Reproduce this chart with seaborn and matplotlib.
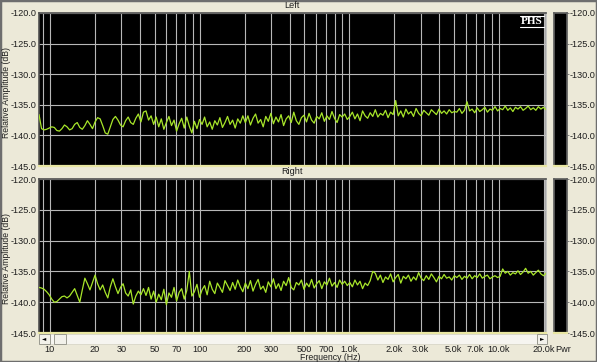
import numpy as np
import pandas as pd
import matplotlib
matplotlib.use("Agg")
import matplotlib.pyplot as plt
from matplotlib.patches import Rectangle
from matplotlib.lines import Line2D
from matplotlib.ticker import FixedLocator, FixedFormatter, NullFormatter
import seaborn as sns

# ---------------- data ----------------
left_db = [
    -136.6, -138.9, -139.1, -139.0, -138.8, -138.6, -138.7, -139.2, -139.3, -138.9, -138.3,
    -138.6, -139.1, -138.9, -138.2, -137.9, -138.7, -139.0, -138.4, -137.6, -138.2, -138.9,
    -137.8, -137.1, -137.3, -138.4, -139.6, -139.8, -138.6, -137.4, -136.9, -137.5,
    -138.3, -138.6, -137.6, -137.0, -137.9, -138.2, -137.2, -136.5, -137.8, -136.2,
    -136.0, -137.5, -136.8, -138.2, -137.0, -138.6, -137.3, -139.0, -137.9, -136.9,
    -138.4, -137.5, -139.3, -138.1, -137.2, -138.8, -137.0, -138.5, -139.6, -137.7,
    -138.9, -137.4, -138.2, -137.0, -138.6, -137.8, -139.0, -137.6, -138.3, -137.1,
    -138.7, -137.9, -136.9, -138.2, -137.5, -138.8, -137.3, -138.0, -136.8,
    -137.9, -136.8, -138.3, -137.2, -136.5, -138.0, -137.4, -138.6, -136.9, -137.7,
    -136.4, -138.1, -137.0, -137.8, -136.6, -138.4, -137.3, -136.8, -137.9, -136.2,
    -137.6, -138.2, -137.1, -136.7, -137.8, -136.4, -137.5, -138.0, -136.9, -137.3,
    -136.3, -137.7, -136.8, -137.4, -136.1, -137.2, -137.9, -136.6, -137.0, -136.5, -137.4,
    -136.9, -136.2, -137.3, -136.5, -137.6, -136.0, -136.8, -137.2, -136.3, -136.9,
    -135.8, -137.0, -136.4, -136.7, -135.9, -137.1, -136.2, -136.6, -134.3, -136.8,
    -136.0, -137.0, -135.7, -136.5, -136.1, -136.9, -135.6, -136.4, -136.8, -135.9,
    -136.3, -136.7, -135.8, -136.2, -136.6, -135.7, -136.4, -136.0, -136.5, -135.8,
    -136.3, -136.1,
    -136.2, -135.6, -136.4, -135.9, -134.5, -136.0, -135.7, -136.3, -135.5, -136.1,
    -135.8, -135.4, -136.2, -135.7, -135.9, -135.3, -136.0, -135.6, -135.8, -135.2,
    -135.9, -135.5, -136.1, -135.4, -135.7, -135.3, -135.9, -135.6, -135.2, -135.8,
    -135.5, -135.9, -135.3, -135.7, -135.4, -135.8,
]

right_db = [
    -137.6, -137.7, -137.9, -138.3, -138.8, -139.5, -140.0, -139.9, -139.5, -139.1,
    -139.0, -139.3, -139.0, -138.4, -137.8, -138.9, -140.0, -138.0, -136.1, -137.0,
    -138.0, -136.8,
    -135.6, -137.0, -138.0, -137.2, -138.4, -139.3, -137.5, -136.2, -137.5, -138.6,
    -137.6, -137.0, -138.5, -139.0, -138.0, -140.3, -139.0, -138.2, -138.8, -137.8,
    -138.9, -137.6, -139.5, -138.2, -140.0, -138.7, -139.6, -137.9, -140.4, -138.5,
    -139.2, -137.6, -139.8, -138.4, -137.8, -139.5, -138.1, -135.0, -139.0, -138.3,
    -137.1, -139.2, -138.0, -137.3, -138.8, -136.6, -137.9, -138.6, -136.9, -137.6,
    -138.4, -136.5, -137.3, -138.1, -136.8, -137.9, -136.4, -137.5, -138.3,
    -136.9, -137.8, -136.5, -138.2, -137.1, -136.3, -137.9, -137.4, -138.4, -136.7,
    -137.5, -136.2, -137.8, -137.0, -138.1, -136.6, -137.3, -136.0, -137.6, -138.0,
    -136.8, -137.2, -136.4, -137.9, -136.9, -137.5, -136.3, -137.7, -137.0, -136.5,
    -137.8, -136.7, -137.2, -136.1, -137.4, -136.8, -137.6, -136.4, -137.1, -136.6, -137.3,
    -136.8, -137.5, -136.4, -137.2, -136.6, -137.8, -136.9, -137.3, -136.5, -135.0,
    -135.3, -136.4, -135.6, -136.8, -135.9, -136.3, -135.4, -136.7, -136.0, -135.5,
    -136.9, -135.8, -136.2, -135.6, -136.6, -135.9, -136.4, -135.2, -136.1, -136.5,
    -135.7, -136.3, -135.4, -136.0, -136.7, -135.8, -136.2, -135.5, -136.1, -135.9,
    -136.4, -135.7,
    -136.0, -135.6, -136.3, -135.8, -136.1, -135.5, -136.2, -135.7, -136.0, -135.4,
    -136.1, -135.8, -135.6, -136.2, -135.9, -135.7, -136.0, -135.8, -134.6, -135.3,
    -135.0, -135.6, -135.2, -135.4, -134.9, -135.5, -135.1, -134.5, -135.3, -135.0,
    -135.6, -135.2, -134.8, -135.4, -135.7, -135.3,
]

freq_start, freq_stop = 8.45, 20700.0
channel_titles = ["Left", "Right"]
y_ticks = [-120, -125, -130, -135, -140, -145]
y_tick_labels = ["-120.0", "-125.0", "-130.0", "-135.0", "-140.0", "-145.0"]
x_ticks = [10, 20, 30, 50, 70, 100, 200, 300, 500, 700, 1000, 2000, 3000, 5000, 7000, 10000, 20000]
x_tick_labels = ["10", "20", "30", "50", "70", "100", "200", "300", "500", "700",
                 "1.0k", "2.0k", "3.0k", "5.0k", "7.0k", "10.0k", "20.0k"]
x_grid_minor = [9, 40, 60, 80, 90, 400, 600, 800, 900, 4000, 6000, 8000, 9000]

# ---------------- style ----------------
sns.set_theme(style="dark")
BG = "#ECE9D8"
plt.rcParams["font.family"] = ["Liberation Sans", "DejaVu Sans"]
plt.rcParams["axes.unicode_minus"] = False

W, H = 597, 362
fig = plt.figure(figsize=(W / 100, H / 100), dpi=100, facecolor=BG)


def rect(x0, y0, x1, y1):
    return [x0 / W, 1 - y1 / H, (x1 - x0) / W, (y1 - y0) / H]


freqs = np.geomspace(freq_start, freq_stop, len(left_db))
df = pd.DataFrame({
    "Frequency (Hz)": np.concatenate([freqs, freqs]),
    "dB": left_db + right_db,
    "channel": ["Left"] * len(left_db) + ["Right"] * len(right_db),
})

panels = [(13, 166), (179, 333)]
LINE = "#A8E62A"
TXT = "#1E1E1E"
FS = 6.6

for i, (ch, (y0, y1)) in enumerate(zip(channel_titles, panels)):
    ax = fig.add_axes(rect(39, y0, 546, y1))
    ax.set_facecolor("black")
    sns.lineplot(data=df[df["channel"] == ch], x="Frequency (Hz)", y="dB",
                 estimator=None, sort=True, color=LINE, linewidth=0.9, ax=ax, zorder=3)
    ax.set_xscale("log")
    ax.set_xlim(freq_start, freq_stop)
    ax.set_ylim(-145, -120)
    ax.yaxis.set_major_locator(FixedLocator(y_ticks))
    ax.yaxis.set_major_formatter(FixedFormatter(y_tick_labels))
    ax.xaxis.set_major_locator(FixedLocator(x_ticks))
    ax.xaxis.set_minor_locator(FixedLocator(x_grid_minor))
    ax.xaxis.set_minor_formatter(NullFormatter())
    if i == 1:
        ax.xaxis.set_major_formatter(FixedFormatter(x_tick_labels))
    else:
        ax.xaxis.set_major_formatter(NullFormatter())
    ax.grid(True, which="both", axis="x", color="#B8B8B8", linewidth=0.8, zorder=1)
    ax.grid(True, which="major", axis="y", color="#B8B8B8", linewidth=0.8, zorder=1)
    ax.tick_params(axis="both", which="both", length=0, labelsize=FS, colors=TXT)
    ax.tick_params(axis="y", pad=1.5)
    ax.tick_params(axis="x", pad=8.5)
    ax.set_xlabel("")
    ax.set_ylabel("")
    for s in ["left", "top"]:
        ax.spines[s].set_color("#505050")
        ax.spines[s].set_linewidth(1.2)
    ax.spines["right"].set_color("#C0C0C0")
    ax.spines["bottom"].set_color("#E8E6A2")
    ax.spines["bottom"].set_linewidth(1.6)
    for s in ax.spines.values():
        s.set_visible(True)

    # meter bar on the right
    m = fig.add_axes(rect(554, y0, 567, y1))
    m.set_facecolor("black")
    m.set_xticks([])
    m.set_ylim(-145, -120)
    m.yaxis.set_major_locator(FixedLocator(y_ticks))
    m.yaxis.set_major_formatter(FixedFormatter(y_tick_labels))
    m.yaxis.tick_right()
    m.tick_params(axis="y", length=1.5, width=0.6, color="#707070", pad=0.5,
                  labelsize=FS, labelcolor=TXT)
    for s in ["left", "top", "right"]:
        m.spines[s].set_color("#606060")
    m.spines["bottom"].set_color("#E8E6A2")
    m.spines["bottom"].set_linewidth(1.6)

    # titles and y labels
    fig.text(292 / W, 1 - (y0 - 7) / H, ch, ha="center", va="center", fontsize=FS, color=TXT)
    fig.text(7 / W, 1 - ((y0 + y1) / 2 + 3) / H, "Relative Amplitude (dB)", rotation=90,
             ha="center", va="center", fontsize=6.2, color=TXT)

# PHS logo
fig.text(532 / W, 1 - 21 / H, "PHS", ha="center", va="center", fontsize=8,
         fontweight="bold", family=["Liberation Serif", "DejaVu Serif"], color="white")
for yy in (15.5, 26.5):
    fig.add_artist(Line2D([520 / W, 544 / W], [1 - yy / H, 1 - yy / H], color="white",
                          linewidth=0.8, transform=fig.transFigure))

# scroll bar below the lower panel
fig.add_artist(Rectangle((39 / W, 1 - 344 / H), (546 - 39) / W, 10 / H, transform=fig.transFigure,
                         facecolor="#F6F5F0", edgecolor="#D8D6C8", linewidth=0.6))
for (bx0, bx1) in [(39, 50), (54, 66), (537, 547)]:
    fig.add_artist(Rectangle((bx0 / W, 1 - 344 / H), (bx1 - bx0) / W, 10 / H,
                             transform=fig.transFigure, facecolor="#F2F1EA",
                             edgecolor="#9A9A90", linewidth=0.7))
fig.text(44.5 / W, 1 - 339 / H, "\u25c4", ha="center", va="center", fontsize=4,
         family="DejaVu Sans", color="black")
fig.text(542 / W, 1 - 339 / H, "\u25ba", ha="center", va="center", fontsize=4,
         family="DejaVu Sans", color="black")

fig.text(330 / W, 1 - 357.5 / H, "Frequency (Hz)", ha="center", va="center", fontsize=6.3,
         color=TXT)
fig.text(555 / W, 1 - 350 / H, "Pwr", ha="left", va="center", fontsize=FS, color=TXT)

# window border
fig.add_artist(Rectangle((0, 0), 1, 1, transform=fig.transFigure, fill=False,
                         edgecolor="#6E6E6E", linewidth=2.5))

fig.savefig("out.png", dpi=100, facecolor=BG)
